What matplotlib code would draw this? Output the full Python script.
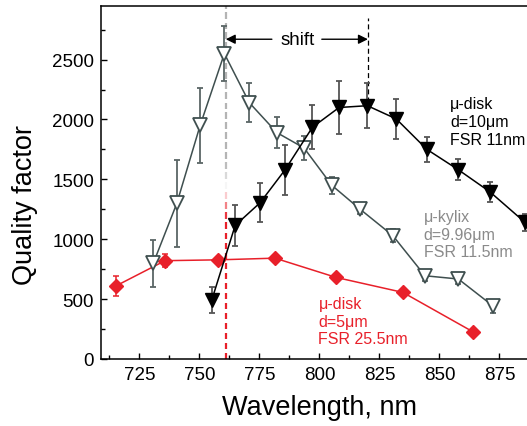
import numpy as np
import matplotlib.pyplot as plt
from matplotlib.collections import LineCollection
from matplotlib.colors import to_rgb
from matplotlib.ticker import MultipleLocator

plt.rcParams['font.family'] = ['Liberation Sans', 'DejaVu Sans']

# mu-disk, d=10um (filled black triangles)
disk10_wl = [755.2, 764.9, 775.3, 785.7, 797.1, 808.2, 820.0, 832.0, 844.8, 857.9, 871.1, 885.7]
disk10_q = [495, 1115, 1305, 1580, 1935, 2100, 2115, 2005, 1750, 1580, 1395, 1140]
disk10_err = [108, 175, 164, 208, 185, 222, 188, 167, 102, 87, 84, 70]

# mu-kylix, d=9.96um (open triangles)
kylix_wl = [730.8, 740.6, 750.3, 760.4, 770.8, 782.3, 793.6, 805.2, 817.0, 830.6, 844.0, 857.9, 872.5]
kylix_q = [800, 1300, 1950, 2550, 2140, 1890, 1762, 1450, 1250, 1030, 695, 668, 440]
kylix_err = [195, 362, 315, 230, 164, 129, 100, 70, 42, 52, 41, 41, 52]

# mu-disk, d=5um (red diamonds)
disk5_wl = [715.3, 735.7, 757.9, 781.5, 807.0, 834.8, 863.9]
disk5_q = [611, 821, 828, 842, 681, 556, 228]
disk5_err = [83, 54, 0, 0, 0, 0, 0]

# peak positions and the shift arrow
peak_kylix = 761.0
peak_disk10 = 820.2
shift_q = 2670
peak_disk10_span = [2150, 2850]

RED = '#e8202a'
SLATE = '#3f4f4f'

fig = plt.figure(figsize=(5.27, 4.27), dpi=100)
ax = fig.add_axes([101 / 527, 67 / 427, 446.4 / 527, 353.3 / 427])
ax.set_xlim(709, 895)
ax.set_ylim(0, 2950)

# vertical marker line: red at the bottom fading through white to grey at the top
ymax = 2950
per_px = ymax / 353.3
dash, gap = 6.5 * per_px, 3.5 * per_px
starts = np.arange(0, ymax, dash + gap)
stops = [0, 1170, 1420, 1640, ymax]
cols = [to_rgb(RED), to_rgb(RED), (1, 1, 1), to_rgb('#b4b4b4'), to_rgb('#b4b4b4')]
segs, seg_cols = [], []
for s in starts:
    mid = s + dash / 2
    segs.append([(peak_kylix, s), (peak_kylix, min(s + dash, ymax))])
    seg_cols.append([np.interp(mid, stops, [c[i] for c in cols]) for i in range(3)])
ax.add_collection(LineCollection(segs, colors=seg_cols, linewidths=1.6, zorder=1))

ax.plot([peak_disk10, peak_disk10], peak_disk10_span, color='k', lw=0.9,
        ls=(0, (4, 2.5)), zorder=1)

ax.errorbar(disk5_wl, disk5_q, yerr=disk5_err, fmt='D-', color=RED, ms=7.2,
            lw=1.1, elinewidth=1.1, capsize=2.5, capthick=1.1, zorder=3)
ax.errorbar(kylix_wl, kylix_q, yerr=kylix_err, fmt='v-', color=SLATE, mfc='white',
            mec=SLATE, mew=1.3, ms=9.5, lw=1.1, ecolor='#5a6666', elinewidth=1.3,
            capsize=2.5, capthick=1.3, zorder=4)
ax.errorbar(disk10_wl, disk10_q, yerr=disk10_err, fmt='v-', color='k', ms=9.5,
            lw=1.1, ecolor='#555555', elinewidth=1.3, capsize=2.5, capthick=1.3,
            zorder=5)

# shift arrow
arrow = dict(arrowstyle='-|>', color='k', lw=1.0, mutation_scale=14, shrinkA=0, shrinkB=0)
ax.annotate('', xy=(peak_kylix, shift_q), xytext=(780.2, shift_q), arrowprops=arrow)
ax.annotate('', xy=(peak_disk10, shift_q), xytext=(801.0, shift_q), arrowprops=arrow)
ax.text(790.8, shift_q, 'shift', ha='center', va='center', fontsize=13.5)

ax.text(854.5, 1983, 'μ-disk\nd=10μm\nFSR 11nm', ha='left', va='center',
        fontsize=11.5, color='k', linespacing=1.22)
ax.text(843.4, 1042, 'μ-kylix\nd=9.96μm\nFSR 11.5nm', ha='left', va='center',
        fontsize=11.5, color='#8a8a8a', linespacing=1.22)
ax.text(799.6, 317, 'μ-disk\nd=5μm\nFSR 25.5nm', ha='left', va='center',
        fontsize=11.5, color=RED, linespacing=1.22)

ax.xaxis.set_major_locator(MultipleLocator(25))
ax.xaxis.set_minor_locator(MultipleLocator(12.5))
ax.yaxis.set_major_locator(MultipleLocator(500))
ax.yaxis.set_minor_locator(MultipleLocator(250))
ax.tick_params(which='both', direction='in', top=False, right=False, width=1.0)
ax.tick_params(which='major', length=4.5, labelsize=13.5, pad=5)
ax.tick_params(which='minor', length=2.8)
for sp in ax.spines.values():
    sp.set_linewidth(1.1)
ax.spines['right'].set_visible(False)

fig.text(25 / 527, 1 - 205 / 427, 'Quality factor', rotation=90, ha='center',
         va='center', fontsize=19.5)
fig.text(320 / 527, 1 - 408 / 427, 'Wavelength, nm', ha='center', va='center',
         fontsize=19.5)

fig.savefig('out.png', dpi=100)
